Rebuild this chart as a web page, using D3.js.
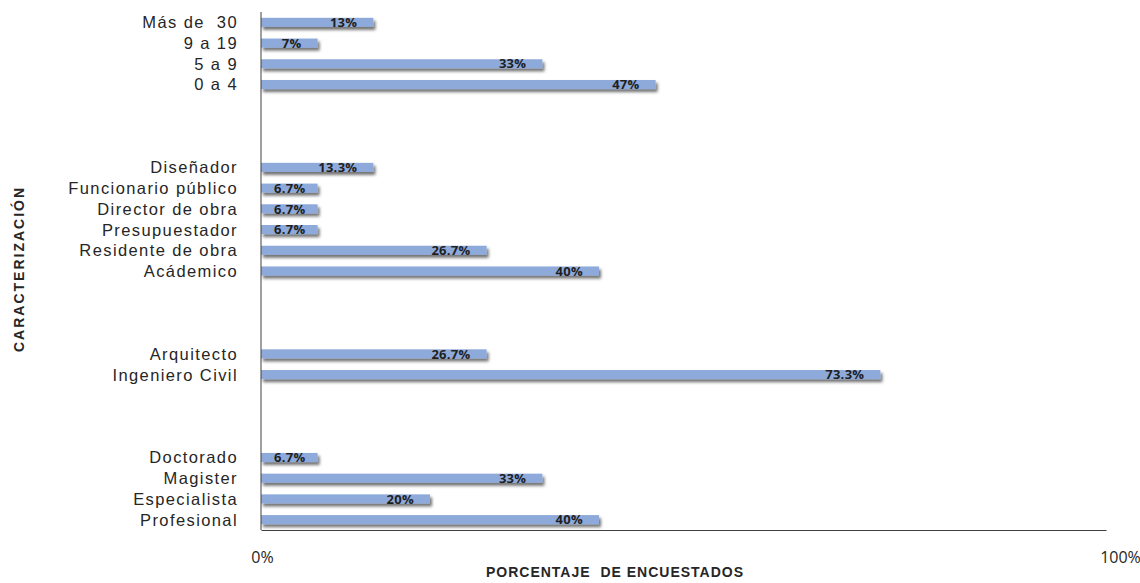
<!DOCTYPE html>
<html>
<head>
<meta charset="utf-8">
<script src="https://cdn.jsdelivr.net/npm/d3@7"></script>
<style>
  body { margin: 0; background: #fff; }
  svg { display: block; }
</style>
</head>
<body>
<svg id="chart"></svg>
<script>
// groups, top to bottom (Excel draws them with blank rows between)
const expLabels = ['Más de  30', '9 a 19', '5 a 9', '0 a 4'];
const expValues = [13.3, 6.7, 33.3, 46.7];
const expText = ['13%', '7%', '33%', '47%'];

const roleLabels = ['Diseñador', 'Funcionario público', 'Director de obra', 'Presupuestador', 'Residente de obra', 'Acádemico'];
const roleValues = [13.3, 6.7, 6.7, 6.7, 26.7, 40];
const roleText = ['13.3%', '6.7%', '6.7%', '6.7%', '26.7%', '40%'];

const profLabels = ['Arquitecto', 'Ingeniero Civil'];
const profValues = [26.7, 73.3];
const profText = ['26.7%', '73.3%'];

const eduLabels = ['Doctorado', 'Magister', 'Especialista', 'Profesional'];
const eduValues = [6.7, 33.3, 20, 40];
const eduText = ['6.7%', '33%', '20%', '40%'];

const xTicks = [0, 100];
const gapRows = 3;

const groups = [
  [expLabels, expValues, expText],
  [roleLabels, roleValues, roleText],
  [profLabels, profValues, profText],
  [eduLabels, eduValues, eduText],
];

// build rows, with blank spacer keys between the groups
const rows = [];
groups.forEach((g, gi) => {
  if (gi > 0) {
    for (let k = 0; k < gapRows; k++) rows.push({ key: `gap-${gi}-${k}`, blank: true });
  }
  g[0].forEach((lab, i) => rows.push({ key: lab, label: lab, value: g[1][i], text: g[2][i] }));
});
const bars = rows.filter((r) => !r.blank);

const W = 1140, H = 583;
const m = { left: 261, right: 1106, top: 12, bottom: 530 };

const svg = d3.select('#chart').attr('width', W).attr('height', H);

const defs = svg.append('defs');
const shadow = defs.append('filter').attr('id', 'shadow')
  .attr('x', '-5%').attr('y', '-50%').attr('width', '115%').attr('height', '250%');
shadow.append('feDropShadow')
  .attr('dx', 2).attr('dy', 3).attr('stdDeviation', 1.6)
  .attr('flood-color', '#000').attr('flood-opacity', 0.55);

const x = d3.scaleLinear().domain([0, 100]).range([m.left, m.right]);
const y = d3.scaleBand().domain(rows.map((r) => r.key)).range([m.top, m.bottom]).paddingInner(0.56).paddingOuter(0.28);

const sans = "'Liberation Sans', Arial, sans-serif";

// bars
svg.append('g').selectAll('rect')
  .data(bars)
  .join('rect')
  .attr('x', x(0))
  .attr('y', (d) => y(d.key))
  .attr('width', (d) => x(d.value) - x(0))
  .attr('height', y.bandwidth())
  .attr('fill', '#8eaadb')
  .attr('filter', 'url(#shadow)');

// value labels, inside end
const vl = svg.append('g')
  .attr('font-family', "'Open Sans', sans-serif")
  .attr('font-size', 13)
  .attr('font-weight', 'bold')
  .attr('letter-spacing', 0.3)
  .attr('fill', '#1f1f1f');
vl.selectAll('text')
  .data(bars)
  .join('text')
  .attr('y', (d) => y(d.key) + y.bandwidth() / 2)
  .attr('dy', '0.36em')
  .attr('text-anchor', 'end')
  .text((d) => d.text)
  .each(function (d) {
    const w = this.getComputedTextLength();
    d3.select(this).attr('x', Math.max(x(d.value) - 16, x(0) + w + 13));
  });

// category labels
svg.append('g')
  .attr('font-family', sans)
  .attr('font-size', 16.5)
  .attr('letter-spacing', 1.4)
  .attr('fill', '#262626')
  .selectAll('text')
  .data(bars)
  .join('text')
  .attr('x', 238)
  .attr('y', (d) => y(d.key) + y.bandwidth() / 2)
  .attr('dy', '0.36em')
  .attr('text-anchor', 'end')
  .style('white-space', 'pre')
  .text((d) => d.label);

// axes
const yAxis = svg.append('g')
  .attr('transform', `translate(${m.left},0)`)
  .call(d3.axisLeft(y).tickSize(0).tickFormat(''));
yAxis.select('.domain').attr('stroke', '#404040').attr('d', `M0,${m.top}V${m.bottom}`);

const xAxis = svg.append('g')
  .attr('transform', `translate(0,${m.bottom})`)
  .call(d3.axisBottom(x).tickValues(xTicks).tickSize(0).tickPadding(22).tickFormat((d) => d + '%'));
xAxis.select('.domain').attr('stroke', '#404040').attr('stroke-width', 1.2);
xAxis.selectAll('.tick text')
  .attr('font-family', "'Open Sans', sans-serif")
  .attr('font-size', 16)
  .attr('fill', '#262626')
  .attr('dx', (d) => (d === 100 ? 14 : 1));

// axis titles
svg.append('text')
  .attr('x', 615)
  .attr('y', 577)
  .attr('text-anchor', 'middle')
  .attr('font-family', sans)
  .attr('font-size', 14)
  .attr('font-weight', 'bold')
  .attr('letter-spacing', 1)
  .attr('fill', '#262626')
  .style('white-space', 'pre')
  .text('PORCENTAJE  DE ENCUESTADOS');

svg.append('text')
  .attr('transform', 'translate(24,269) rotate(-90)')
  .attr('text-anchor', 'middle')
  .attr('font-family', sans)
  .attr('font-size', 14)
  .attr('font-weight', 'bold')
  .attr('letter-spacing', 2)
  .attr('fill', '#262626')
  .text('CARACTERIZACIÓN');
</script>
</body>
</html>
